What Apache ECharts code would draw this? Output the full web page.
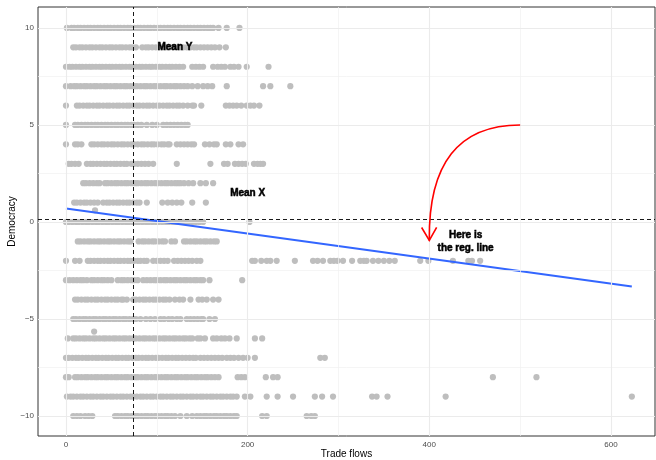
<!DOCTYPE html>
<html>
<head>
<meta charset="utf-8">
<script src="https://cdn.jsdelivr.net/npm/echarts@6/dist/echarts.min.js"></script>
<style>
  html, body { margin: 0; padding: 0; background: #ffffff; }
  #chart { width: 656px; height: 460px; }
</style>
</head>
<body>
<div id="chart"></div>
<script>
// Democracy score (rows) against trade flows, one array of trade values per score.
const democracyLevels = [10, 9, 8, 7, 6, 5, 4, 3, 2, 1, 0, -1, -2, -3, -4, -5, -6, -7, -8, -9, -10];

const flows10 = [1, 6, 9, 13, 16, 20, 24, 27, 31, 35, 38, 42, 46, 49, 53, 57, 60, 64, 68, 71, 75, 79, 82, 86, 90, 93, 97, 101, 104, 108, 112, 115, 119, 123, 126, 130, 134, 137, 141, 145, 148, 152, 156, 159, 162, 168, 177, 191];
const flows9 = [8, 11, 15, 18, 22, 26, 29, 33, 37, 40, 44, 48, 51, 55, 59, 62, 66, 70, 73, 77, 84, 88, 91, 95, 99, 103, 106, 110, 114, 118, 121, 125, 129, 133, 137, 141, 144, 148, 152, 156, 160, 164, 169, 176];
const flows8 = [0, 4, 7, 11, 15, 18, 22, 26, 29, 33, 37, 40, 44, 48, 51, 55, 59, 62, 66, 70, 73, 77, 81, 84, 88, 92, 95, 99, 103, 106, 110, 114, 117, 121, 125, 129, 139, 143, 147, 151, 162, 167, 171, 175, 181, 185, 190, 199, 223];
const flows7 = [0, 5, 9, 12, 16, 20, 23, 27, 31, 34, 38, 42, 45, 49, 53, 56, 60, 64, 67, 71, 75, 78, 82, 86, 89, 93, 97, 100, 104, 108, 111, 115, 119, 122, 126, 130, 134, 139, 145, 151, 156, 161, 177, 217, 225, 247];
const flows6 = [0, 12, 15, 19, 23, 26, 30, 34, 37, 41, 45, 48, 52, 56, 59, 63, 67, 70, 74, 78, 81, 85, 89, 92, 96, 100, 103, 107, 111, 114, 118, 122, 125, 129, 134, 139, 141, 149, 176, 180, 184, 188, 193, 199, 203, 207, 213];
const flows5 = [0, 10, 13, 17, 21, 24, 28, 32, 35, 39, 43, 46, 50, 54, 57, 61, 65, 68, 72, 75, 79, 83, 89, 95, 100, 107, 111, 115, 119, 123, 127, 131, 134];
const flows4 = [0, 10, 13, 17, 28, 31, 35, 39, 42, 46, 50, 53, 57, 61, 64, 68, 72, 75, 79, 83, 86, 90, 94, 97, 101, 105, 108, 112, 114, 122, 126, 130, 134, 138, 141, 153, 158, 163, 166, 176, 181, 190, 195];
const flows3 = [3, 6, 10, 14, 23, 27, 30, 34, 38, 42, 45, 49, 53, 56, 60, 64, 67, 72, 75, 79, 83, 87, 91, 96, 122, 159, 174, 178, 186, 190, 194, 198, 207, 211, 214, 217];
const flows2 = [19, 22, 26, 30, 34, 37, 43, 46, 50, 54, 57, 61, 65, 68, 72, 76, 79, 83, 87, 90, 94, 98, 101, 105, 109, 112, 116, 120, 123, 126, 130, 135, 140, 148, 154, 162];
const flows1 = [9, 12, 16, 20, 23, 27, 31, 35, 41, 45, 48, 52, 56, 59, 63, 67, 70, 74, 78, 81, 89, 106, 112, 117, 122, 127, 139, 154];
const flows0 = [0, 3, 7, 11, 14, 18, 22, 25, 29, 33, 36, 40, 44, 47, 51, 55, 58, 62, 66, 69, 73, 77, 80, 84, 88, 91, 95, 99, 102, 106, 110, 113, 117, 121, 124, 128, 132, 135, 139, 143, 147, 151, 202];
const flowsMinus1 = [13, 16, 20, 24, 27, 31, 35, 38, 42, 46, 49, 53, 57, 60, 64, 68, 71, 80, 84, 87, 91, 95, 98, 102, 106, 109, 116, 120, 130, 133, 137, 141, 144, 148, 152, 155, 159, 163, 166];
const flowsMinus2 = [0, 10, 15, 24, 27, 31, 35, 38, 42, 46, 49, 53, 57, 60, 64, 68, 71, 75, 79, 82, 86, 89, 96, 100, 104, 108, 112, 119, 123, 127, 131, 135, 139, 144, 148, 205, 208, 215, 221, 225, 232, 252, 272, 277, 283, 291, 295, 299, 305, 315, 324, 328, 331, 338, 344, 350, 356, 362, 390, 399, 426, 443, 447, 456];
const flowsMinus3 = [0, 4, 8, 12, 16, 19, 23, 28, 31, 35, 39, 42, 46, 50, 57, 61, 64, 68, 72, 75, 79, 85, 89, 93, 97, 100, 104, 108, 111, 115, 119, 122, 126, 130, 133, 137, 141, 144, 148, 151, 158, 194];
const flowsMinus4 = [10, 13, 17, 21, 24, 28, 32, 35, 39, 43, 46, 50, 54, 57, 61, 63, 67, 74, 77, 81, 85, 88, 92, 96, 99, 103, 107, 110, 114, 120, 125, 129, 137, 146, 150, 155, 162, 168];
const flowsMinus5 = [8, 11, 15, 19, 22, 26, 30, 33, 37, 41, 44, 48, 52, 55, 59, 63, 66, 70, 74, 77, 82, 88, 93, 98, 104, 108, 113, 117, 122, 126, 133, 137, 141, 145, 149, 151, 158, 164];
const flowsMinus6 = [2, 8, 11, 15, 19, 22, 26, 30, 33, 37, 41, 44, 48, 52, 55, 59, 63, 66, 70, 74, 77, 81, 85, 88, 92, 96, 99, 103, 107, 110, 114, 118, 121, 125, 129, 132, 136, 139, 145, 148, 153, 162, 166, 171, 175, 180, 188, 208, 216];
const flowsMinus7 = [0, 3, 7, 11, 14, 18, 22, 25, 29, 33, 36, 40, 44, 47, 51, 55, 58, 62, 66, 69, 73, 77, 80, 84, 88, 91, 95, 99, 102, 106, 110, 113, 117, 121, 124, 128, 132, 136, 140, 143, 148, 152, 156, 160, 164, 168, 172, 177, 181, 185, 190, 195, 200, 208, 280, 285];
const flowsMinus8 = [0, 3, 10, 13, 17, 21, 24, 28, 32, 35, 39, 43, 46, 50, 54, 57, 61, 65, 68, 72, 76, 79, 83, 87, 90, 94, 98, 101, 105, 109, 112, 116, 120, 123, 127, 131, 134, 138, 142, 145, 149, 153, 156, 160, 164, 168, 189, 193, 197, 220, 228, 233, 470, 518];
const flowsMinus9 = [1, 5, 8, 12, 16, 19, 23, 27, 30, 34, 38, 41, 45, 49, 52, 56, 60, 63, 67, 71, 74, 78, 82, 85, 89, 93, 96, 100, 104, 107, 111, 115, 118, 122, 126, 129, 133, 137, 140, 144, 148, 151, 155, 159, 162, 166, 170, 173, 177, 181, 184, 188, 197, 203, 221, 233, 250, 274, 282, 294, 337, 342, 354, 418, 623];
const flowsMinus10 = [8, 12, 16, 21, 25, 29, 54, 57, 61, 65, 68, 72, 76, 79, 83, 87, 90, 94, 98, 101, 105, 109, 112, 116, 120, 126, 133, 139, 144, 148, 152, 155, 159, 163, 166, 170, 174, 177, 181, 185, 188, 216, 221, 265, 270, 274];

// Two observations sitting between score rows: [trade, democracy]
const offRowPoints = [[32, 0.6], [31, -5.65]];

// Fitted regression line end points: [trade, democracy]
const regressionLine = [[0, 0.70], [623, -3.33]];

// Sample means
const meanTrade = 74;
const meanDemocracy = 0.15;

// Axis ticks and grid breaks
const xTickValues = [0, 200, 400, 600];
const xMinorBreaks = [100, 300, 500];
const yTickValues = [-10, -5, 0, 5, 10];
const yMinorBreaks = [-7.5, -2.5, 2.5, 7.5];

// Text notes: [trade, democracy] and their text
const noteTexts = ['Mean Y', 'Mean X', 'Here is\nthe reg. line'];
const notePositions = [[120, 9.0], [200, 1.5], [440, -1.0]];

// Curved arrow pointing at the regression line: start, end, bend control point
const arrowFrom = [500, 5.0];
const arrowTo = [400, -0.95];
const arrowBend = [398.5, 5.0];

const flowsByLevel = [flows10, flows9, flows8, flows7, flows6, flows5, flows4, flows3, flows2, flows1, flows0,
  flowsMinus1, flowsMinus2, flowsMinus3, flowsMinus4, flowsMinus5, flowsMinus6, flowsMinus7, flowsMinus8, flowsMinus9, flowsMinus10];

const points = [];
democracyLevels.forEach((level, i) => {
  flowsByLevel[i].forEach(x => points.push([x, level]));
});
offRowPoints.forEach(p => points.push(p));

const FONT = "'Liberation Sans', Arial, Helvetica, sans-serif";
const fmtTick = v => (v < 0 ? '\u2212' + Math.abs(v) : String(v));

const majorGrid = { color: '#ebebeb', width: 1.1, type: 'solid' };
const minorGrid = { color: '#f0f0f0', width: 0.7, type: 'solid' };
const gridLines = []
  .concat(xMinorBreaks.map(v => ({ xAxis: v, lineStyle: minorGrid })))
  .concat(yMinorBreaks.map(v => ({ yAxis: v, lineStyle: minorGrid })))
  .concat(xTickValues.map(v => ({ xAxis: v, lineStyle: majorGrid })))
  .concat(yTickValues.map(v => ({ yAxis: v, lineStyle: majorGrid })));

const chart = echarts.init(document.getElementById('chart'), null, { renderer: 'canvas' });

chart.setOption({
  animation: false,
  backgroundColor: '#ffffff',
  textStyle: { fontFamily: FONT },
  grid: {
    left: 38, right: 1, top: 7, bottom: 24,
    containLabel: false, outerBoundsMode: 'none',
    show: true, borderColor: '#333333', borderWidth: 1, backgroundColor: '#ffffff'
  },
  xAxis: {
    type: 'value',
    min: -30.8, max: 648.5,
    axisLine: { show: false },
    splitLine: { show: false },
    axisTick: { show: true, customValues: xTickValues, length: 3, lineStyle: { color: '#333333', width: 1 } },
    axisLabel: { customValues: xTickValues, formatter: fmtTick, fontSize: 8, color: '#4d4d4d', margin: 5, fontFamily: FONT },
    name: 'Trade flows',
    nameLocation: 'middle',
    nameGap: 13,
    nameMoveOverlap: false,
    nameTextStyle: { fontSize: 10, color: '#000000', fontFamily: FONT }
  },
  yAxis: {
    type: 'value',
    min: -11.03, max: 11.08,
    axisLine: { show: false },
    splitLine: { show: false },
    axisTick: { show: true, customValues: yTickValues, length: 3, lineStyle: { color: '#333333', width: 1 } },
    axisLabel: { customValues: yTickValues, formatter: fmtTick, fontSize: 8, color: '#4d4d4d', margin: 4, fontFamily: FONT },
    name: 'Democracy',
    nameLocation: 'middle',
    nameGap: 21,
    nameMoveOverlap: false,
    nameTextStyle: { fontSize: 10, color: '#000000', fontFamily: FONT }
  },
  series: [
    {
      name: 'grid',
      type: 'line',
      data: [],
      z: 1,
      silent: true,
      markLine: { silent: true, symbol: 'none', label: { show: false }, animation: false, data: gridLines }
    },
    {
      name: 'observations',
      type: 'scatter',
      data: points,
      symbolSize: 6.2,
      itemStyle: { color: '#bebebe', opacity: 1 },
      z: 2,
      silent: true
    },
    {
      name: 'means',
      type: 'line',
      data: [],
      z: 3,
      silent: true,
      markLine: {
        silent: true, symbol: 'none', label: { show: false }, animation: false,
        lineStyle: { color: '#000000', width: 0.9, type: [4, 3] },
        data: [{ xAxis: meanTrade }, { yAxis: meanDemocracy }]
      }
    },
    {
      name: 'fit',
      type: 'line',
      data: regressionLine,
      showSymbol: false,
      symbol: 'none',
      lineStyle: { color: '#3366ff', width: 2 },
      z: 4,
      silent: true
    },
    {
      name: 'notes',
      type: 'custom',
      data: notePositions,
      z: 5,
      silent: true,
      clip: false,
      renderItem: (params, api) => {
        const p = api.coord([api.value(0), api.value(1)]);
        return {
          type: 'text',
          x: p[0], y: p[1],
          style: {
            text: noteTexts[params.dataIndex],
            align: 'center', verticalAlign: 'middle',
            fontSize: 10, fontWeight: 'bold', fontFamily: FONT, lineHeight: 13,
            fill: '#000000', stroke: '#000000', lineWidth: 0.5
          }
        };
      }
    },
    {
      name: 'arrow',
      type: 'custom',
      data: [[arrowFrom[0], arrowFrom[1], arrowTo[0], arrowTo[1], arrowBend[0], arrowBend[1]]],
      encode: { x: [0, 2, 4], y: [1, 3, 5] },
      z: 6,
      silent: true,
      clip: false,
      renderItem: (params, api) => {
        const s = api.coord([api.value(0), api.value(1)]);
        const e = api.coord([api.value(2), api.value(3)]);
        const c = api.coord([api.value(4), api.value(5)]);
        const dx = e[0] - c[0], dy = e[1] - c[1];
        const len = Math.hypot(dx, dy);
        const bx = -dx / len, by = -dy / len;
        const head = 15, ang = Math.PI / 6;
        const arm = a => [
          e[0] + head * (bx * Math.cos(a) - by * Math.sin(a)),
          e[1] + head * (bx * Math.sin(a) + by * Math.cos(a))
        ];
        const lineStyle = { stroke: '#ff0000', fill: 'none', lineWidth: 1.6 };
        return {
          type: 'group',
          children: [
            { type: 'bezierCurve', shape: { x1: s[0], y1: s[1], x2: e[0], y2: e[1], cpx1: c[0], cpy1: c[1] }, style: lineStyle },
            { type: 'polyline', shape: { points: [arm(ang), e, arm(-ang)] }, style: lineStyle }
          ]
        };
      }
    }
  ]
});
</script>
</body>
</html>
